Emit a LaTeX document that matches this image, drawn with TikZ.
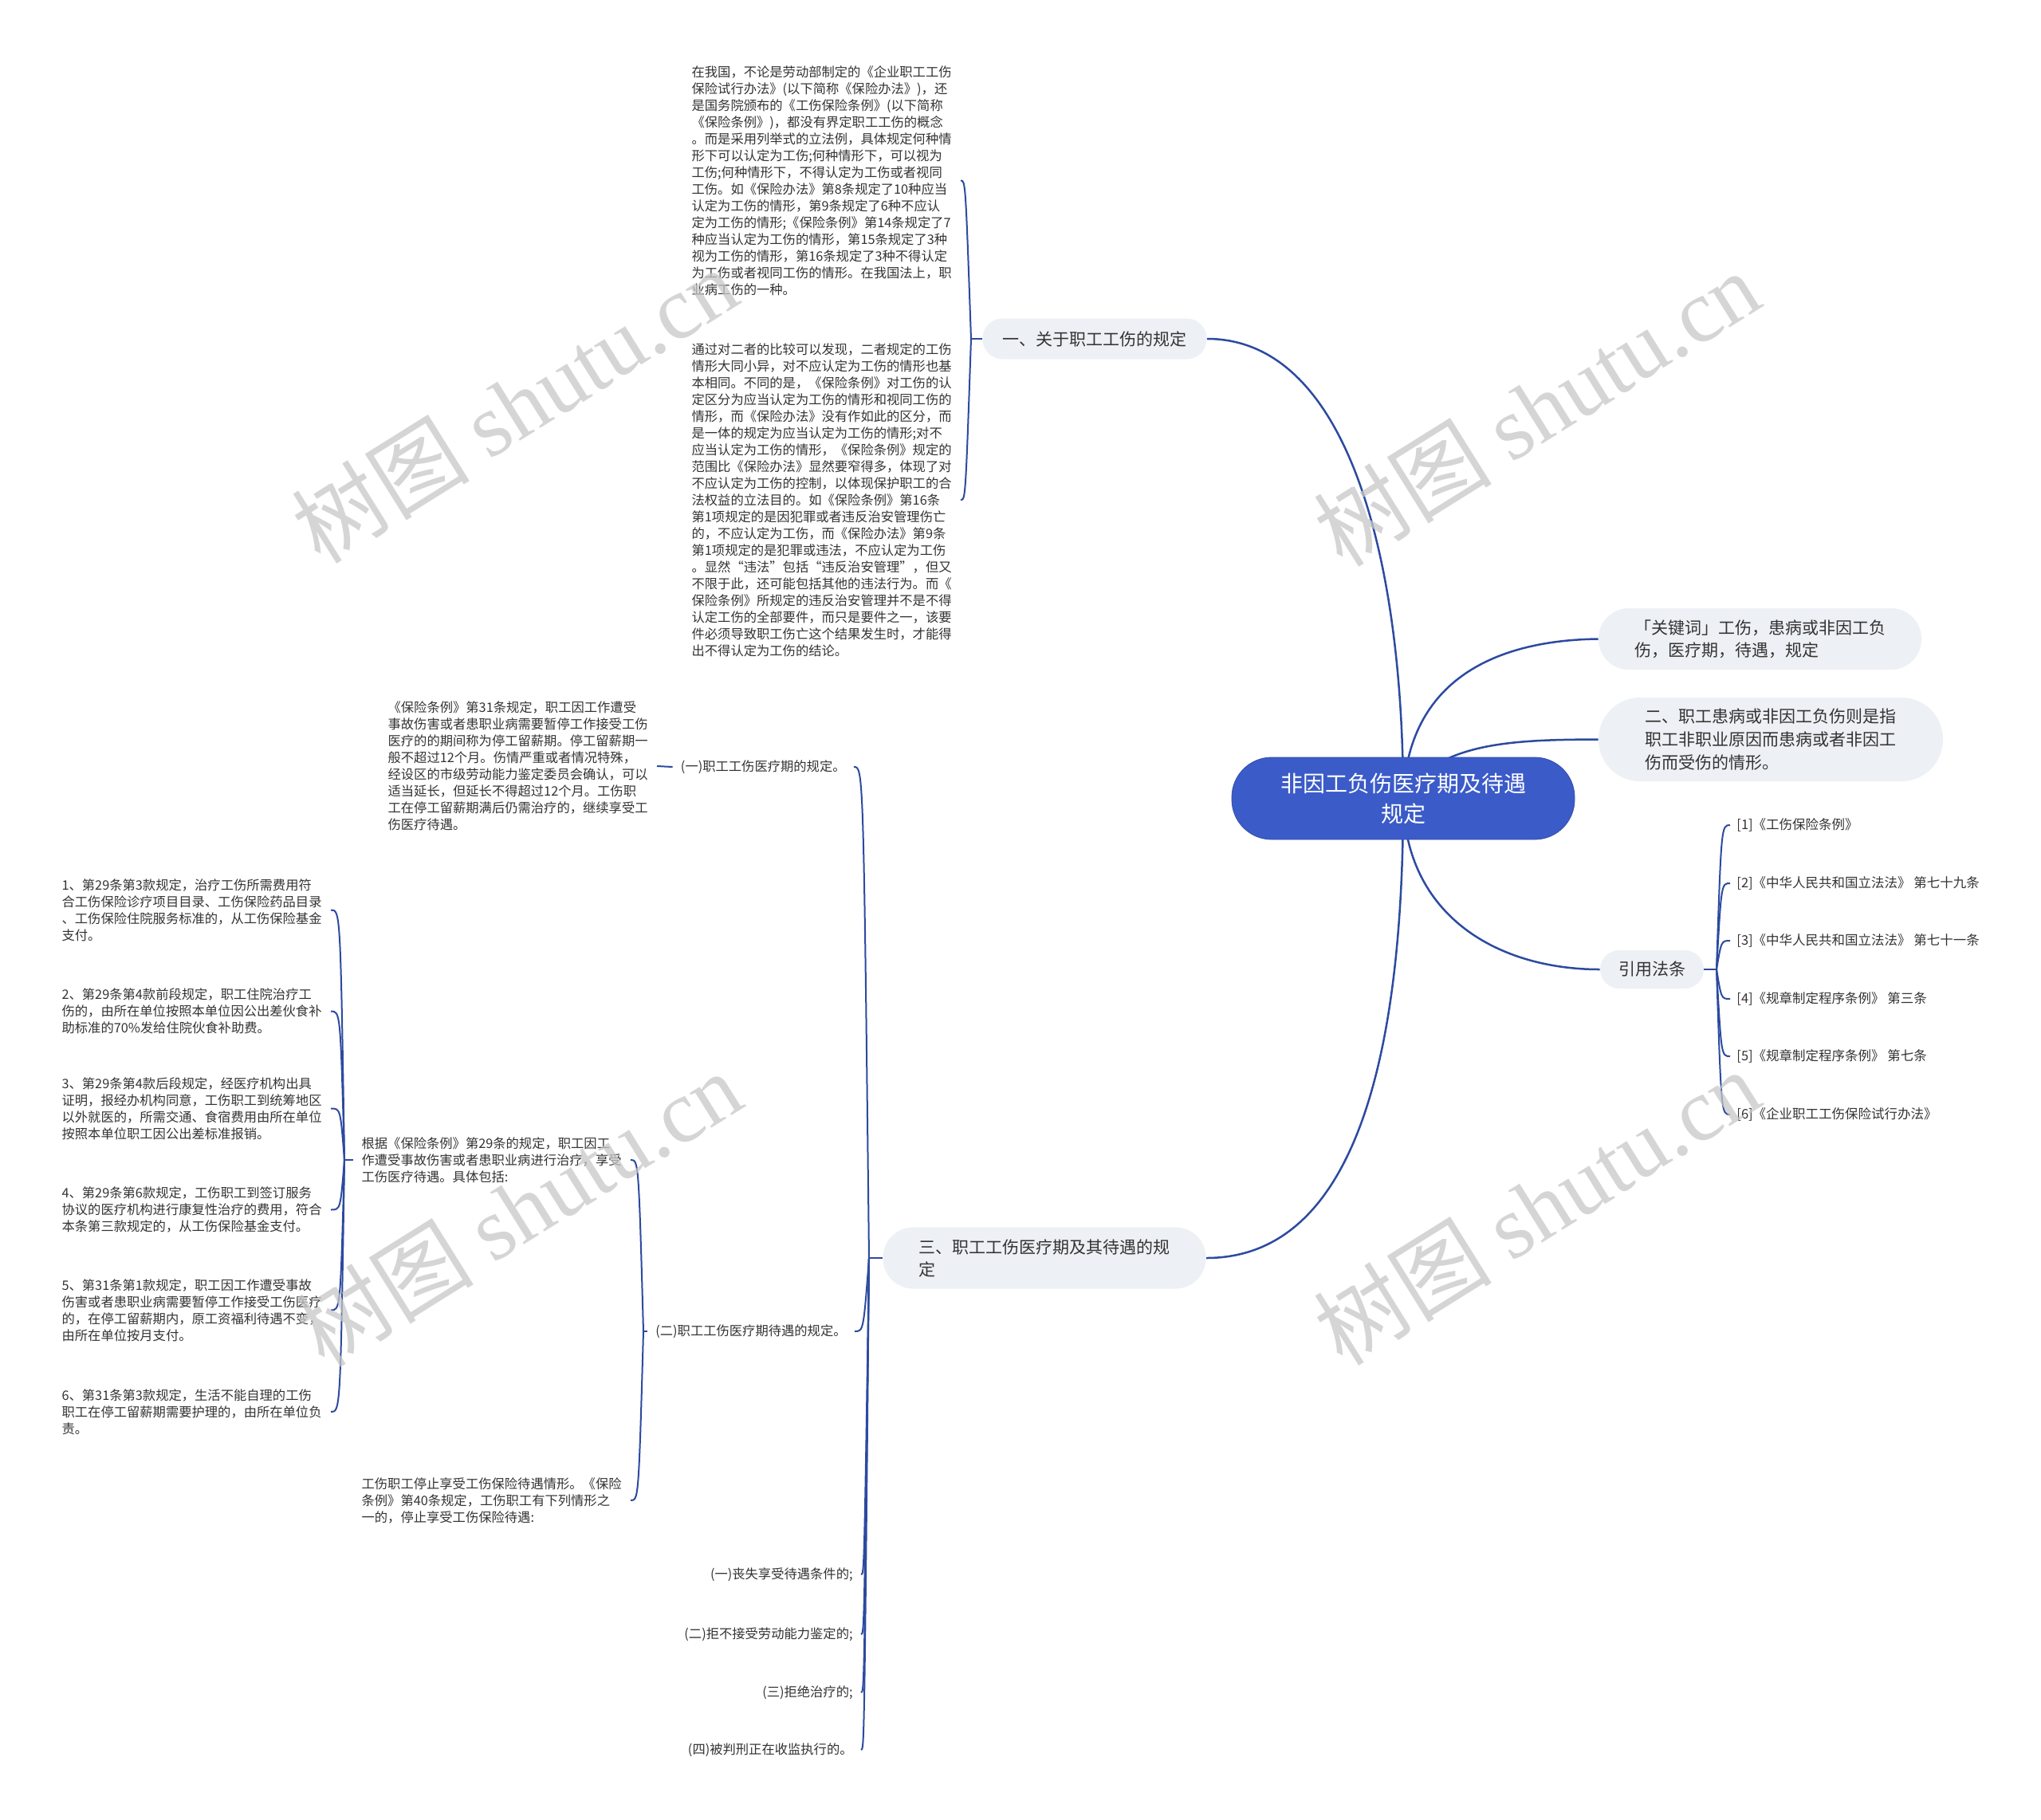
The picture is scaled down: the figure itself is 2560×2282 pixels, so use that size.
\documentclass[tikz,border=0pt]{standalone}
\usepackage{fontspec}
\setmainfont{Noto Sans CJK SC}
\newfontfamily\wmfont{Liberation Serif}
\pgfdeclarelayer{bg}
\pgfdeclarelayer{lines}
\pgfsetlayers{bg,lines,main}
\definecolor{lc}{RGB}{44,74,160}
\definecolor{rootc}{RGB}{59,91,200}
\definecolor{boxc}{RGB}{237,240,245}
\definecolor{tc}{RGB}{51,51,51}
\definecolor{wmc}{RGB}{200,200,200}
\tikzset{
  conn/.style={draw=lc, line width=1pt},
  mainconn/.style={draw=lc, line width=1.25pt},
  rootnode/.style={fill=rootc, draw=rootc!85!black, line width=0.4pt, text=white, align=center, font=\fontsize{14pt}{19pt}\selectfont, inner sep=0pt},
  pill/.style={fill=boxc, text=tc, align=left, font=\fontsize{10.5pt}{14pt}\selectfont, inner sep=0pt},
  small/.style={text=tc, align=left, font=\fontsize{8.15pt}{10.5pt}\selectfont, inner ysep=0pt, inner xsep=5pt},
  blockw/.style={small, text width=163.5pt},
  refitem/.style={text=tc, align=left, font=\fontsize{8.25pt}{10.5pt}\selectfont, inner ysep=0pt, inner xsep=4pt},
  wm/.style={text=wmc, rotate=32, font=\fontsize{56pt}{60pt}\selectfont, inner sep=0pt, text opacity=0.75},
}
\begin{document}
\begin{tikzpicture}[x=0.5pt,y=-0.5pt]
\begin{pgfonlayer}{bg}
\fill[white] (0,0) rectangle (2560,2282);
\end{pgfonlayer}
\useasboundingbox (0,0) rectangle (2560,2282);

% ---------- main nodes ----------
\node[rootnode, minimum width=215pt, minimum height=51.5pt, rounded corners=25pt] (root) at (1760,1001.5) {非因工负伤医疗期及待遇\\规定};
\node[pill, minimum width=140.5pt, minimum height=25.5pt, rounded corners=12.5pt] (b1) at (1373,425) {一、关于职工工伤的规定};
\node[pill, minimum width=202.5pt, minimum height=38.5pt, rounded corners=19pt] (b3) at (1310,1578) {三、职工工伤医疗期及其待遇的规\\定};
\node[pill, minimum width=202.5pt, minimum height=38.5pt, rounded corners=19pt] (kw) at (2207.5,801.5) {「关键词」工伤，患病或非因工负\\伤，医疗期，待遇，规定};
\node[pill, font=\fontsize{10.5pt}{14.5pt}\selectfont, minimum width=216pt, minimum height=52.5pt, rounded corners=26pt] (b2) at (2221,927.5) {二、职工患病或非因工负伤则是指\\职工非职业原因而患病或者非因工\\伤而受伤的情形。};
\node[pill, minimum width=65pt, minimum height=24pt, rounded corners=12pt] (refs) at (2072,1216) {引用法条};

% ---------- references ----------
\node[refitem, anchor=west] (r1) at (2170,1035) {[1]《工伤保险条例》};
\node[refitem, anchor=west] (r2) at (2170,1108) {[2]《中华人民共和国立法法》 第七十九条};
\node[refitem, anchor=west] (r3) at (2170,1180) {[3]《中华人民共和国立法法》 第七十一条};
\node[refitem, anchor=west] (r4) at (2170,1253) {[4]《规章制定程序条例》 第三条};
\node[refitem, anchor=west] (r5) at (2170,1325) {[5]《规章制定程序条例》 第七条};
\node[refitem, anchor=west] (r6) at (2170,1398) {[6]《企业职工工伤保险试行办法》};

% ---------- branch 1 children ----------
\node[blockw, anchor=east] (blk1) at (1205,226.5) {在我国，不论是劳动部制定的《企业职工工伤\\
保险试行办法》(以下简称《保险办法》)，还\\
是国务院颁布的《工伤保险条例》(以下简称\\
《保险条例》)，都没有界定职工工伤的概念\\
。而是采用列举式的立法例，具体规定何种情\\
形下可以认定为工伤;何种情形下，可以视为\\
工伤;何种情形下，不得认定为工伤或者视同\\
工伤。如《保险办法》第8条规定了10种应当\\
认定为工伤的情形，第9条规定了6种不应认\\
定为工伤的情形;《保险条例》第14条规定了7\\
种应当认定为工伤的情形，第15条规定了3种\\
视为工伤的情形，第16条规定了3种不得认定\\
为工伤或者视同工伤的情形。在我国法上，职\\
业病工伤的一种。};
\node[blockw, anchor=east] (blk2) at (1205,627) {通过对二者的比较可以发现，二者规定的工伤\\
情形大同小异，对不应认定为工伤的情形也基\\
本相同。不同的是，《保险条例》对工伤的认\\
定区分为应当认定为工伤的情形和视同工伤的\\
情形，而《保险办法》没有作如此的区分，而\\
是一体的规定为应当认定为工伤的情形;对不\\
应当认定为工伤的情形，《保险条例》规定的\\
范围比《保险办法》显然要窄得多，体现了对\\
不应认定为工伤的控制，以体现保护职工的合\\
法权益的立法目的。如《保险条例》第16条\\
第1项规定的是因犯罪或者违反治安管理伤亡\\
的，不应认定为工伤，而《保险办法》第9条\\
第1项规定的是犯罪或违法，不应认定为工伤\\
。显然“违法”包括“违反治安管理”，但又\\
不限于此，还可能包括其他的违法行为。而《\\
保险条例》所规定的违反治安管理并不是不得\\
认定工伤的全部要件，而只是要件之一，该要\\
件必须导致职工伤亡这个结果发生时，才能得\\
出不得认定为工伤的结论。};

% ---------- branch 3 children ----------
\node[small, anchor=east] (c1) at (1071,962) {(一)职工工伤医疗期的规定。};
\node[small, anchor=east] (c2) at (1072,1670) {(二)职工工伤医疗期待遇的规定。};
\node[small, anchor=east] (d1) at (1080,1975) {(一)丧失享受待遇条件的;};
\node[small, anchor=east] (d2) at (1080,2050) {(二)拒不接受劳动能力鉴定的;};
\node[small, anchor=east] (d3) at (1080,2123) {(三)拒绝治疗的;};
\node[small, anchor=east] (d4) at (1080,2195) {(四)被判刑正在收监执行的。};

\node[blockw, anchor=east] (blk3) at (824,961) {《保险条例》第31条规定，职工因工作遭受\\
事故伤害或者患职业病需要暂停工作接受工伤\\
医疗的的期间称为停工留薪期。停工留薪期一\\
般不超过12个月。伤情严重或者情况特殊，\\
经设区的市级劳动能力鉴定委员会确认，可以\\
适当延长，但延长不得超过12个月。工伤职\\
工在停工留薪期满后仍需治疗的，继续享受工\\
伤医疗待遇。};

\node[blockw, anchor=east] (blk4) at (791,1455) {根据《保险条例》第29条的规定，职工因工\\
作遭受事故伤害或者患职业病进行治疗，享受\\
工伤医疗待遇。具体包括:};
\node[blockw, anchor=east] (blk5) at (791,1882) {工伤职工停止享受工伤保险待遇情形。《保险\\
条例》第40条规定，工伤职工有下列情形之\\
一的，停止享受工伤保险待遇:};

\node[blockw, anchor=east] (i1) at (415,1141.5) {1、第29条第3款规定，治疗工伤所需费用符\\合工伤保险诊疗项目目录、工伤保险药品目录\\、工伤保险住院服务标准的，从工伤保险基金\\支付。};
\node[blockw, anchor=east] (i2) at (415,1268.5) {2、第29条第4款前段规定，职工住院治疗工\\伤的，由所在单位按照本单位因公出差伙食补\\助标准的70\%发给住院伙食补助费。};
\node[blockw, anchor=east] (i3) at (415,1390.5) {3、第29条第4款后段规定，经医疗机构出具\\证明，报经办机构同意，工伤职工到统筹地区\\以外就医的，所需交通、食宿费用由所在单位\\按照本单位职工因公出差标准报销。};
\node[blockw, anchor=east] (i4) at (415,1517.5) {4、第29条第6款规定，工伤职工到签订服务\\协议的医疗机构进行康复性治疗的费用，符合\\本条第三款规定的，从工伤保险基金支付。};
\node[blockw, anchor=east] (i5) at (415,1643.5) {5、第31条第1款规定，职工因工作遭受事故\\伤害或者患职业病需要暂停工作接受工伤医疗\\的，在停工留薪期内，原工资福利待遇不变，\\由所在单位按月支付。};
\node[blockw, anchor=east] (i6) at (415,1771) {6、第31条第3款规定，生活不能自理的工伤\\职工在停工留薪期需要护理的，由所在单位负\\责。};

% ---------- hub coordinates ----------
\coordinate (h1) at (1218,425);
\coordinate (h3) at (1090,1578);
\coordinate (h2) at (807,1670);
\coordinate (h4) at (432,1455);
\coordinate (hr) at (2153,1216);

% ---------- connectors ----------
\begin{pgfonlayer}{lines}
\draw[mainconn] (root.center) .. controls (1760,700) and (1690,425) .. (b1.east);
\draw[mainconn] (root.center) .. controls (1765,850) and (1880,803) .. (kw.west);
\draw[mainconn] (root.center) .. controls (1800,930) and (1900,928) .. (b2.west);
\draw[mainconn] (root.center) .. controls (1762,1150) and (1880,1216) .. (refs.west);
\draw[mainconn] (root.center) .. controls (1760,1350) and (1690,1578) .. (b3.east);

\draw[conn] (b1.west) -- (h1);
\draw[conn] (h1) .. controls (1211,226.5) .. (blk1.east);
\draw[conn] (h1) .. controls (1211,627) .. (blk2.east);

\draw[conn] (refs.east) -- (hr);
\foreach \r/\yy in {r1/1035,r2/1108,r3/1180,r4/1253,r5/1325,r6/1398}
  \draw[conn] (hr) .. controls (2159,\yy) .. (\r.west);

\draw[conn] (b3.west) -- (h3);
\draw[conn] (h3) .. controls (1083,962) .. (c1.east);
\draw[conn] (h3) .. controls (1083,1670) .. (c2.east);
\foreach \d/\yy in {d1/1975,d2/2050,d3/2123,d4/2195}
  \draw[conn] (h3) .. controls (1084,\yy) .. (\d.east);

\draw[conn] (c1.west) -- (blk3.east);

\draw[conn] (c2.west) -- (h2);
\draw[conn] (h2) .. controls (801,1455) .. (blk4.east);
\draw[conn] (h2) .. controls (801,1882) .. (blk5.east);

\draw[conn] (blk4.west) -- (h4);
\foreach \i/\yy in {i1/1141.5,i2/1268.5,i3/1390.5,i4/1517.5,i5/1643.5,i6/1771}
  \draw[conn] (h4) .. controls (427,\yy) .. (\i.east);
\end{pgfonlayer}

% ---------- watermarks ----------
\node[wm] (wm1) at (645,508) {树图 {\wmfont shutu.cn}};
\node[wm] (wm2) at (1927,512) {树图 {\wmfont shutu.cn}};
\node[wm] (wm3) at (650,1516) {树图 {\wmfont shutu.cn}};
\node[wm] (wm4) at (1927,1514) {树图 {\wmfont shutu.cn}};
\end{tikzpicture}
\end{document}
